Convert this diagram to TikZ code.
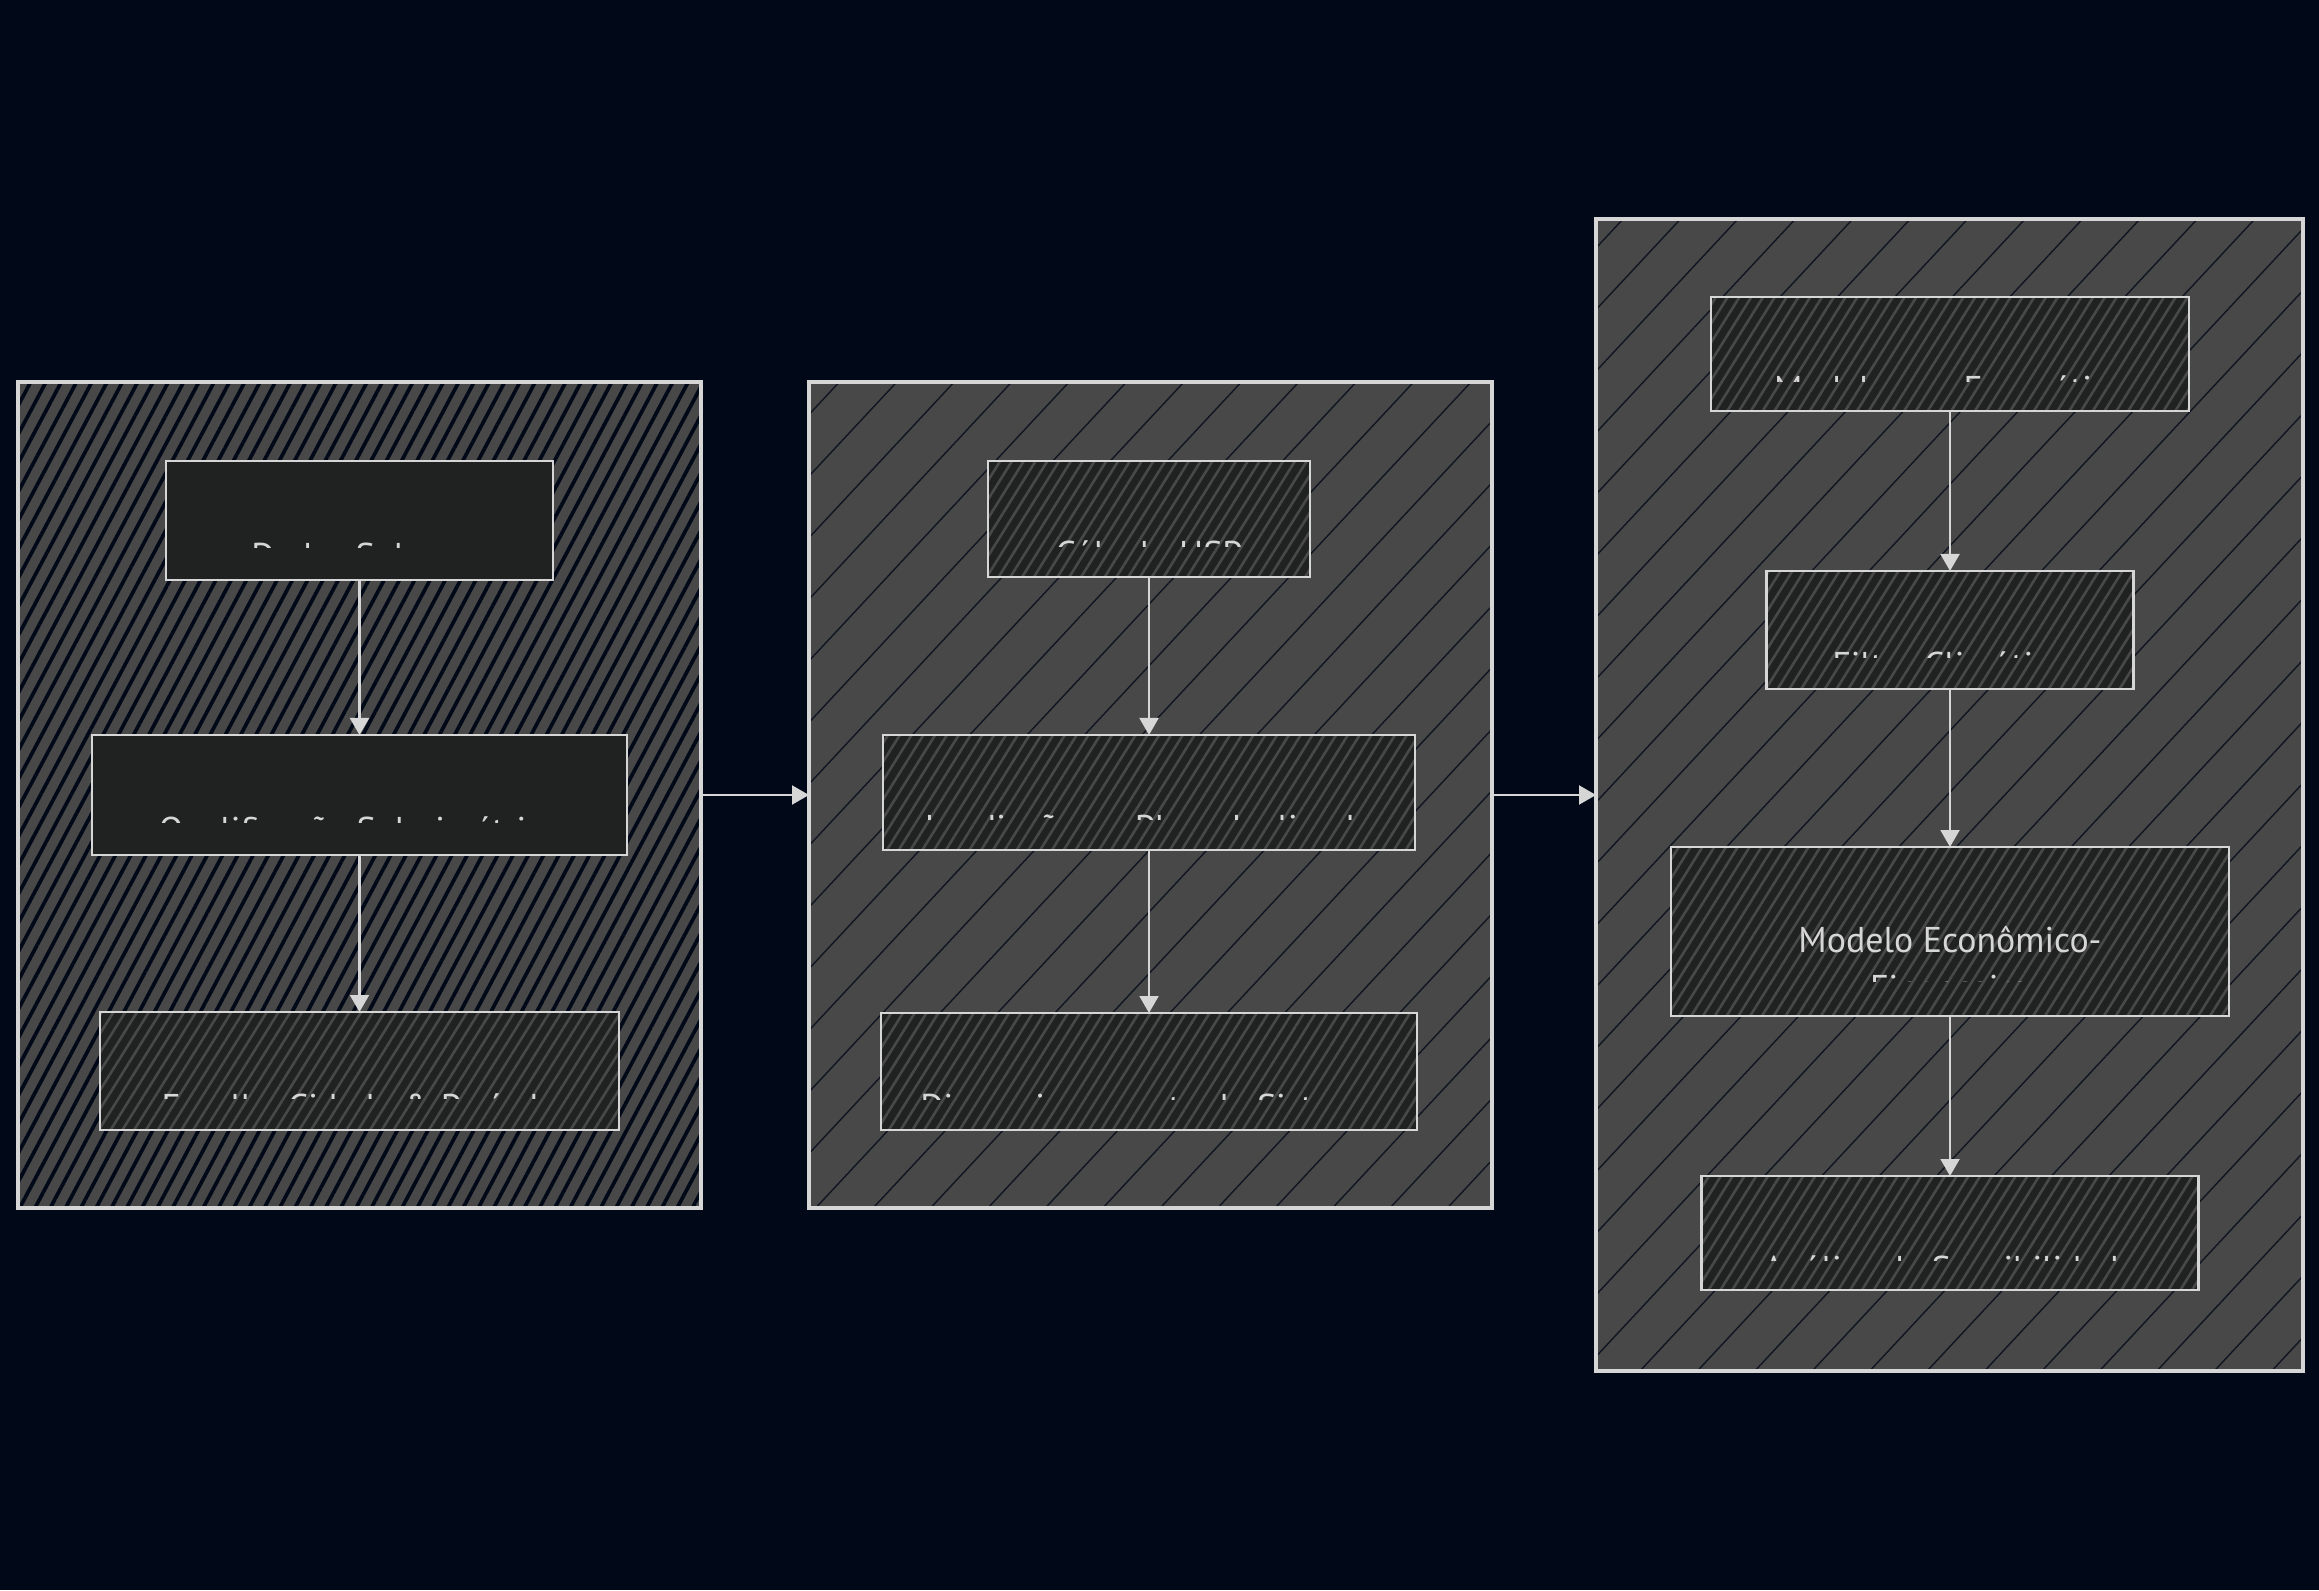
\documentclass[tikz,border=0pt]{standalone}
\usepackage{fontspec}
\setmainfont{PT Sans}
\usetikzlibrary{arrows.meta, patterns.meta}

\definecolor{Canvas}{RGB}{1,8,23}
\definecolor{ClusterGray}{RGB}{72,72,72}
\definecolor{BoxDark}{RGB}{32,33,33}
\definecolor{Pencil}{RGB}{214,214,214}
\colorlet{InkText}{Pencil}

\tikzset{
  cluster/.style = {draw=Pencil, line width=0.9pt, inner sep=0pt, outer sep=0pt,
    preaction={fill=ClusterGray}, pattern color=Canvas!80!ClusterGray,
    pattern={Lines[angle=47, distance=4.2mm, line width=0.4pt]}},
  densecluster/.style = {cluster, pattern color=Canvas,
    pattern={Lines[angle=62, distance=1.35mm, line width=1.05pt]}},
  stage/.style = {draw=Pencil, line width=0.7pt, inner sep=0pt, outer sep=0pt, fill=BoxDark},
  hatched/.style = {stage, preaction={fill=BoxDark}, pattern color=ClusterGray,
    pattern={Lines[angle=58, distance=1mm, line width=0.75pt]}},
  flow/.style = {draw=Pencil, line width=0.6pt, -{Triangle[length=1.7mm, width=1.9mm]}},
  lbl/.style = {text=InkText, font=\fontsize{10.2pt}{14pt}\selectfont, inner sep=0pt, anchor=base},
}

% label pushed low in its box, bottom part cut away
\newcommand\cutlabel[2]{%
  \begin{scope}
    \clip ([yshift=-2.75mm]#1.west) rectangle (#1.north east);
    \node[lbl] (#1-text) at ([yshift=-4.8mm]#1.center) {#2};
  \end{scope}}

\begin{document}
\begin{tikzpicture}

\fill[Canvas] (0,0) rectangle (23.19,15.90);

% groups
\node[densecluster, minimum width=6.83cm, minimum height=8.26cm] (prep) at (3.595,7.95) {};
\node[cluster, minimum width=6.83cm, minimum height=8.26cm] (sizing) at (11.505,7.95) {};
\node[cluster, minimum width=7.07cm, minimum height=11.52cm] (finance) at (19.495,7.95) {};

% first group
\node[stage, minimum width=3.87cm, minimum height=1.19cm] (data) at (3.595,10.695) {};
\node[stage, minimum width=5.35cm, minimum height=1.20cm] (qual) at (3.595,7.95) {};
\node[hatched, minimum width=5.19cm, minimum height=1.18cm] (city) at (3.595,5.19) {};

% second group
\node[hatched, minimum width=3.22cm, minimum height=1.16cm] (hsp) at (11.49,10.71) {};
\node[hatched, minimum width=5.32cm, minimum height=1.15cm] (irrad) at (11.49,7.975) {};
\node[hatched, minimum width=5.36cm, minimum height=1.17cm] (dimen) at (11.49,5.185) {};

% third group
\node[hatched, minimum width=4.78cm, minimum height=1.14cm] (energy) at (19.50,12.36) {};
\node[hatched, minimum width=3.67cm, minimum height=1.18cm] (climate) at (19.50,9.60) {};
\node[hatched, minimum width=5.58cm, minimum height=1.69cm] (econ) at (19.50,6.585) {};
\node[hatched, minimum width=4.97cm, minimum height=1.14cm] (sens) at (19.50,3.57) {};

\cutlabel{data}{Dados Solares}
\cutlabel{qual}{Qualificação Solarimétrica}
\cutlabel{city}{Escolha Cidade \& Período}
\cutlabel{hsp}{Cálculo HSP}
\cutlabel{irrad}{Irradiação no Plano Inclinado}
\cutlabel{dimen}{Dimensionamento do Sistema}
\cutlabel{energy}{Modelagem Energética}
\cutlabel{climate}{Filtro Climático}
\cutlabel{sens}{Análise de Sensibilidade}

\node[lbl] (econ-text) at ([yshift=-2.05mm]econ.center) {Modelo Econômico-};
\begin{scope}
  \clip ([yshift=-4.95mm]econ.west) rectangle (econ.north east);
  \node[lbl] (econ-text2) at ([yshift=-6.85mm]econ.center) {Financeiro};
\end{scope}

\draw[flow] (data) -- (qual);
\draw[flow] (qual) -- (city);
\draw[flow] (hsp) -- (irrad);
\draw[flow] (irrad) -- (dimen);
\draw[flow] (energy) -- (climate);
\draw[flow] (climate) -- (econ);
\draw[flow] (econ) -- (sens);
\draw[flow] (prep) -- (sizing);
\draw[flow] (sizing) -- (finance);

\end{tikzpicture}
\end{document}
